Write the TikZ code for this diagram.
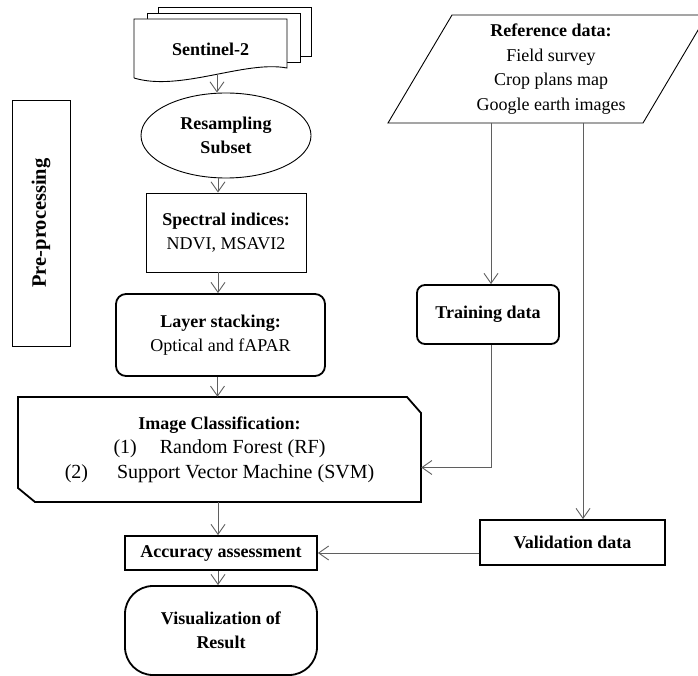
\documentclass[tikz,border=0pt]{standalone}
\usepackage{fontspec}
\setmainfont{Liberation Serif}
\usetikzlibrary{positioning,arrows.meta,shapes.geometric}
\definecolor{wire}{RGB}{95,95,95}

\begin{document}
\begin{tikzpicture}[x=1pt,y=-1pt,
    font=\fontsize{18}{24.5}\selectfont,
    flow/.style={-{Straight Barb[length=10pt,width=14pt]}, wire, line width=0.9pt},
    plain/.style={align=center, inner sep=0pt},
    thinbox/.style={plain, draw, line width=0.9pt},
    thickbox/.style={plain, draw, line width=1.8pt}]
  \clip (0,0) rectangle (698,676);
  % sentinel stack of pages
  \foreach \dx/\dy in {24/-12, 13/-6}
    \filldraw[fill=white, line width=0.9pt] (134+\dx,19+\dy) rectangle (287+\dx,68+\dy);
  \filldraw[fill=white, line width=0.9pt] (134,78) -- (134,19) -- (287,19) -- (287,68)
    .. controls (245,60) and (180,92) .. (134,78);
  \node[plain, font=\fontsize{18}{24.5}\selectfont\bfseries] (sent) at (210.5,49) {Sentinel-2};
  \coordinate (sentbot) at (217,74);
  % left column
  \node[plain, draw, ellipse, line width=0.9pt, minimum width=170pt, minimum height=85pt,
        font=\fontsize{18}{24.5}\selectfont\bfseries] (resamp) at (226,135.5) {Resampling\\Subset};
  \node[thinbox, minimum width=160pt, minimum height=79pt] (spec) at (226,232.5)
    {\textbf{Spectral indices:}\\NDVI, MSAVI2};
  \node[thickbox, rounded corners=10pt, minimum width=209pt, minimum height=82pt] (stack) at (220.5,335)
    {\textbf{Layer stacking:}\\Optical and fAPAR};
  \node[thinbox, rotate=90, minimum width=246pt, minimum height=58pt,
        font=\fontsize{20.5}{24.5}\selectfont\bfseries] (pre) at (41,223) {Pre-processing};
  % classification box with cut corners
  \draw[line width=1.8pt] (18,397) -- (407,397) -- (421,413) -- (421,502) -- (35,502) -- (18,488) -- cycle;
  \node[plain, minimum width=403pt, minimum height=105pt] (class) at (219.5,449.5)
    {\textbf{Image Classification:}\\
     \fontsize{20}{24.5}\selectfont(1)\hspace{23pt}Random Forest (RF)\\
     \fontsize{20}{24.5}\selectfont(2)\hspace{29pt}Support Vector Machine (SVM)};
  \node[thickbox, minimum width=192pt, minimum height=34pt] (acc) at (221,553) {\textbf{Accuracy assessment}};
  \node[thickbox, rounded corners=28pt, minimum width=192pt, minimum height=89pt] (vis) at (221,630.5)
    {\textbf{Visualization of}\\\textbf{Result}};
  % right column
  \draw[line width=0.9pt] (388,123) -- (452,15) -- (707,15) -- (643,123) -- cycle;
  \node[plain] (ref) at (551,69)
    {\textbf{Reference data:}\\Field survey\\Crop plans map\\Google earth images};
  \coordinate (reftrain) at (491,123);
  \coordinate (refval) at (583,123);
  \node[thickbox, rounded corners=8pt, minimum width=142pt, minimum height=59pt] (train) at (488,314.5)
    {\textbf{Training data}};
  \node[thickbox, minimum width=185pt, minimum height=45pt] (val) at (572.5,542.5) {\textbf{Validation data}};
  % connectors
  \draw[flow] (sentbot) -- (sentbot |- resamp.north);
  \draw[flow] (resamp.south -| spec.north) ++(-8,0) -- ([xshift=-8pt]spec.north);
  \draw[flow] ([xshift=-8pt]spec.south) -- ([xshift=-8pt]spec.south |- stack.north);
  \draw[flow] ([xshift=-3pt]stack.south) -- ([xshift=-3pt]stack.south |- class.north);
  \draw[flow] (class.south -| acc.north) ++(-3,0) -- ([xshift=-3pt]acc.north);
  \draw[flow] ([xshift=-3pt]acc.south) -- ([xshift=-3pt]acc.south |- vis.north);
  \draw[flow] (reftrain) -- (reftrain |- train.north);
  \draw[flow] (reftrain |- train.south) |- ([yshift=-18pt]class.east);
  \draw[flow] (refval) -- (refval |- val.north);
  \draw[flow] (val.west |- acc.east) -- (acc.east);
\end{tikzpicture}
\end{document}
